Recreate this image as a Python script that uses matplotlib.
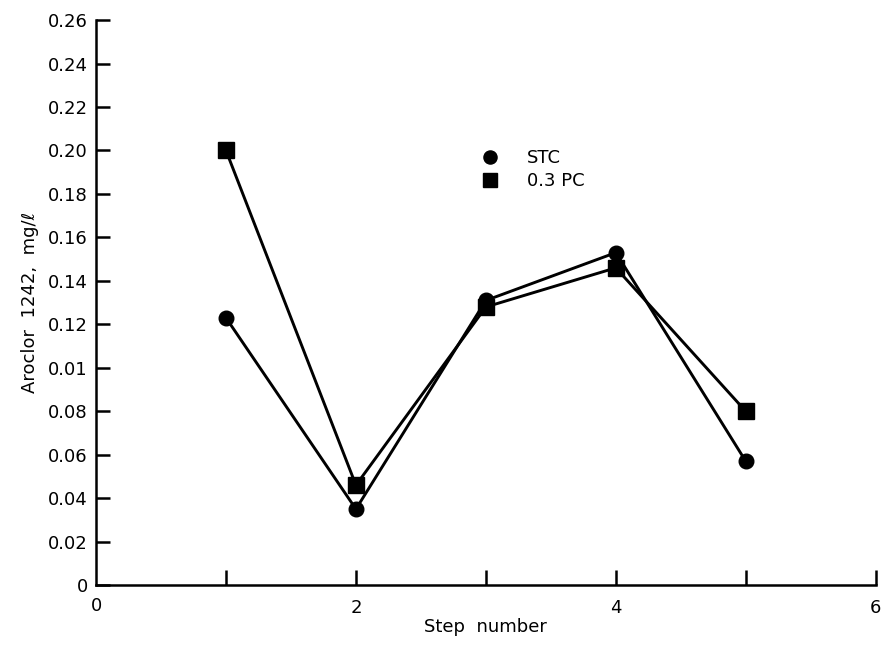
import numpy as np
import matplotlib
matplotlib.use('Agg')
import matplotlib.pyplot as plt

# data
steps = [1, 2, 3, 4, 5]
stc = [0.123, 0.035, 0.131, 0.153, 0.057]
pc03 = [0.200, 0.046, 0.128, 0.146, 0.080]

yticks = [0, 0.02, 0.04, 0.06, 0.08, 0.10, 0.12, 0.14, 0.16, 0.18, 0.20, 0.22, 0.24, 0.26]
# the original figure prints "0.01" where 0.10 belongs
ytick_labels = ['0', '0.02', '0.04', '0.06', '0.08', '0.01', '0.12', '0.14',
                '0.16', '0.18', '0.20', '0.22', '0.24', '0.26']
xticks = [1, 2, 3, 4, 5, 6]
xtick_labels = ['', '2', '', '4', '', '6']

plt.rcParams['font.family'] = ['DejaVu Sans']

fig = plt.figure(figsize=(8.81, 6.48), dpi=100)
ax = fig.add_axes([0.109, 0.097, 0.885, 0.872])

ax.plot(steps, stc, color='black', lw=2.1, marker='o', ms=10.5, label='STC', zorder=3)
ax.plot(steps, pc03, color='black', lw=2.1, marker='s', ms=11, label='0.3 PC', zorder=3)

ax.set_xlim(0, 6)
ax.set_ylim(0, 0.26)
ax.set_yticks(yticks)
ax.set_yticklabels(ytick_labels)
ax.set_xticks(xticks)
ax.set_xticklabels(xtick_labels)
ax.tick_params(axis='y', direction='in', length=10, width=1.8, labelsize=13, pad=6)
ax.tick_params(axis='x', direction='in', length=11, width=1.8, labelsize=13, pad=10)
# the "0" under the origin
ax.text(0, -0.0055, '0', ha='center', va='top', fontsize=13, transform=ax.transData)

for s in ['top', 'right']:
    ax.spines[s].set_visible(False)
for s in ['left', 'bottom']:
    ax.spines[s].set_linewidth(1.8)

ax.set_xlabel('Step  number', fontsize=13, labelpad=1)
ax.set_ylabel('Aroclor  1242,  mg/\u2113', fontsize=13, labelpad=6)

ax.legend(loc='upper left', bbox_to_anchor=(0.485, 0.80), frameon=False,
          handlelength=0, handletextpad=2.0, labelspacing=0.25, fontsize=13,
          markerscale=0.9)

fig.savefig('out.png', dpi=100)
